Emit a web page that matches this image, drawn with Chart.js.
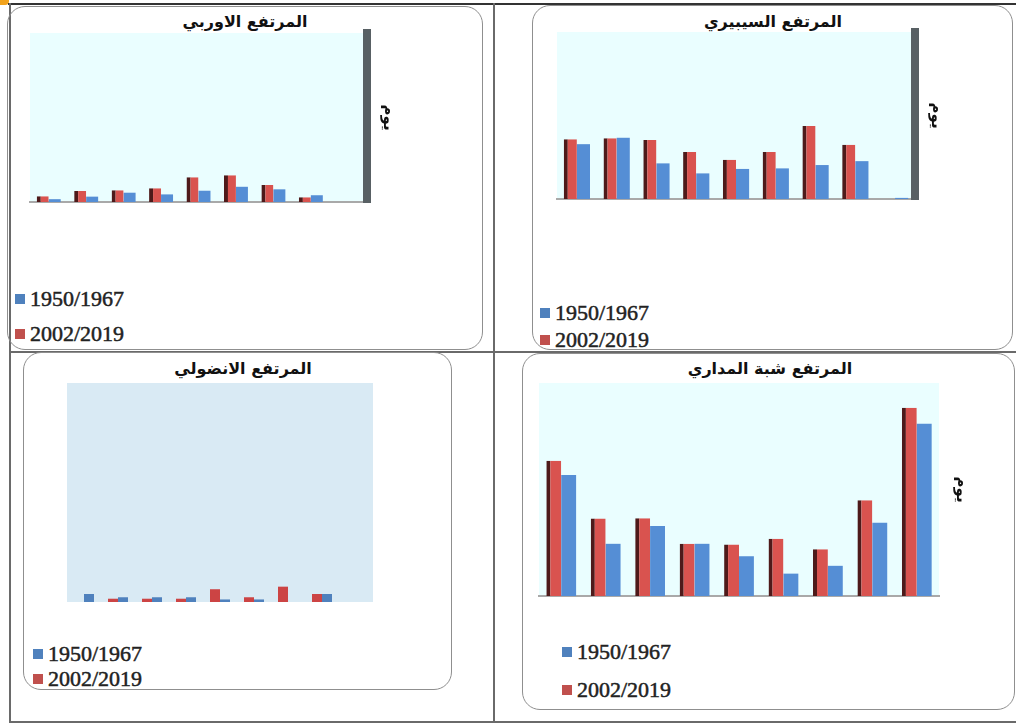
<!DOCTYPE html>
<html lang="ar">
<head>
<meta charset="utf-8">
<script src="https://cdn.jsdelivr.net/npm/chart.js@4.4.1/dist/chart.umd.min.js"></script>
<style>
  html, body { margin: 0; padding: 0; background: #fff; }
  #page { position: relative; width: 1016px; height: 723px; overflow: hidden; }
  .line { position: absolute; background: #6a6a6a; }
  .panel { position: absolute; border: 1.5px solid #8f8f8f; border-radius: 18px; box-sizing: border-box; }
  .title { position: absolute; height: 20px; line-height: 20px; font: bold 16px "DejaVu Sans"; color: #111;
           direction: rtl; white-space: nowrap; transform: translateX(-50%); }
  .legend { position: absolute; height: 22px; line-height: 22px; font: 22px "Liberation Serif"; color: #222;
            white-space: nowrap; -webkit-text-stroke: 0.5px #222; }
  .legend i { display: inline-block; width: 10px; height: 10px; margin-right: 5px; vertical-align: 2px; }
  canvas { position: absolute; }
</style>
</head>
<body>
<div id="page">
  <div style="position:absolute;left:0;top:0;width:9px;height:5px;background:#f2a31c;border-bottom-right-radius:4px"></div>
  <div class="line" style="left:8px;top:3px;width:1008px;height:2px;background:#333"></div>
  <div class="line" style="left:9px;top:3px;width:1.5px;height:720px"></div>
  <div class="line" style="left:493px;top:3px;width:1.5px;height:720px"></div>
  <div class="line" style="left:9px;top:351px;width:1007px;height:1.5px"></div>
  <div class="line" style="left:9px;top:721px;width:1007px;height:1.5px"></div>

  <div class="panel" style="left:7px;top:6px;width:476px;height:344px"></div>
  <div class="panel" style="left:532px;top:5px;width:481px;height:345px"></div>
  <div class="panel" style="left:23px;top:352px;width:429px;height:338px"></div>
  <div class="panel" style="left:522px;top:353px;width:493px;height:357px"></div>

  <div class="title" style="left:245px;top:12px">المرتفع الاوربي</div>
  <div class="title" style="left:773px;top:12px">المرتفع السيبيري</div>
  <div class="title" style="left:243px;top:359px">المرتفع الانضولي</div>
  <div class="title" style="left:770px;top:359px">المرتفع شبة المداري</div>

  <canvas id="europe" width="476" height="183" style="left:7px;top:27px"></canvas>
  <canvas id="siberia" width="481" height="181" style="left:532px;top:26px"></canvas>
  <canvas id="anatolia" width="429" height="233" style="left:23px;top:377px"></canvas>
  <canvas id="subtrop" width="493" height="227" style="left:522px;top:377px"></canvas>

  <div id="legends"></div>
</div>

<script>
// categories (no labels shown in the original) and the two periods
const categories = ['1', '2', '3', '4', '5', '6', '7', '8', '9'];
const seriesLabels = ['1950/1967', '2002/2019'];
const unitLabel = 'يوم';

// values (same arbitrary scale, 0..60 per panel)
const europeRed = [2.0, 3.9, 4.2, 4.9, 8.8, 9.5, 6.0, 1.7, 0];
const europeBlue = [1.0, 1.9, 3.3, 2.7, 4.0, 5.4, 4.5, 2.4, 0];
const siberiaRed = [21.5, 21.8, 21.2, 16.9, 14.1, 16.9, 26.2, 19.5, 0];
const siberiaBlue = [19.7, 22.0, 12.8, 9.2, 10.8, 11.0, 12.2, 13.6, 0.4];
const anatoliaRed = [0, 0.9, 0.9, 0.9, 3.5, 1.3, 4.2, 2.2, 0];
const anatoliaBlue = [2.2, 1.3, 1.3, 1.3, 0.7, 0.7, 0, 2.2, 0];
const subtropRed = [38.1, 21.8, 21.9, 14.7, 14.5, 16.1, 13.2, 27.0, 53.0];
const subtropBlue = [34.1, 14.7, 19.7, 14.7, 11.2, 6.3, 8.5, 20.6, 48.5];

const plotBg = {
  id: 'plotBg',
  beforeDraw(chart, args, opts) {
    const a = chart.chartArea;
    const ctx = chart.ctx;
    ctx.save();
    ctx.fillStyle = opts.color;
    ctx.fillRect(a.left, a.top, a.right - a.left, a.bottom - a.top);
    ctx.restore();
  }
};

function makeChart(id, red, blue, o) {
  return new Chart(document.getElementById(id), {
    type: 'bar',
    data: {
      labels: categories,
      datasets: [
        {
          label: seriesLabels[1], data: red,
          backgroundColor: o.red,
          borderColor: o.edge || o.red,
          borderWidth: o.edge ? { left: 4, top: 0, right: 0, bottom: 0 } : 0,
          borderSkipped: false,
          categoryPercentage: o.cat, barPercentage: 1
        },
        {
          label: seriesLabels[0], data: blue,
          backgroundColor: o.blue, borderWidth: 0,
          categoryPercentage: o.cat, barPercentage: 1
        }
      ]
    },
    options: {
      responsive: false,
      animation: false,
      layout: { padding: o.pad },
      plugins: {
        legend: { display: false },
        tooltip: { enabled: false },
        plotBg: { color: o.bg }
      },
      scales: {
        x: {
          display: true,
          grid: { display: false, drawTicks: false },
          ticks: { display: false },
          border: { display: o.base, color: '#a9a9a9', width: 2 }
        },
        y: {
          display: o.yAxis,
          position: 'right',
          min: 0, max: 60,
          grid: { display: false, drawTicks: false },
          ticks: { display: false },
          border: { display: !!o.wall, color: '#586064', width: 8 },
          title: {
            display: !!o.unit, text: o.unit, color: '#111',
            font: { family: 'DejaVu Sans', size: 15, weight: 'bold', lineHeight: 1.2 },
            padding: { top: 4, bottom: o.tpb || 0 }
          }
        }
      }
    },
    plugins: [plotBg]
  });
}

const cyan = '#eafeff';

makeChart('europe', europeRed, europeBlue, {
  red: '#d9534f', edge: '#4e1a1a', blue: '#558ed5', bg: cyan, cat: 0.64,
  pad: { left: 23, top: 6, right: 82, bottom: 8 },
  base: true, yAxis: true, wall: true, unit: unitLabel, tpb: 12
});
makeChart('siberia', siberiaRed, siberiaBlue, {
  red: '#d9534f', edge: '#4e1a1a', blue: '#558ed5', bg: cyan, cat: 0.66,
  pad: { left: 25, top: 6, right: 64, bottom: 8 },
  base: true, yAxis: true, wall: true, unit: unitLabel, tpb: 12
});
makeChart('anatolia', anatoliaRed, anatoliaBlue, {
  red: '#cc4444', blue: '#4f81bd', bg: '#d9eaf4', cat: 0.59,
  pad: { left: 44, top: 6, right: 79, bottom: 8 },
  base: false, yAxis: false
});
makeChart('subtrop', subtropRed, subtropBlue, {
  red: '#d9534f', edge: '#4e1a1a', blue: '#558ed5', bg: cyan, cat: 0.67,
  pad: { left: 17, top: 6, right: 41, bottom: 8 },
  base: true, yAxis: true, wall: false, unit: unitLabel, tpb: 13
});

// html legends: blue period first, then red, as in the original
const legendSpots = [
  [15, 297, 332],
  [540, 311, 338],
  [33, 652, 677],
  [562, 650, 688]
];
const legendColors = ['#4f81bd', '#c0504d'];
const host = document.getElementById('legends');
legendSpots.forEach(([x, y1, y2]) => {
  [y1, y2].forEach((y, i) => {
    const d = document.createElement('div');
    d.className = 'legend';
    d.style.left = x + 'px';
    d.style.top = (y - 11) + 'px';
    d.innerHTML = '<i style="background:' + legendColors[i] + '"></i>' + seriesLabels[i];
    host.appendChild(d);
  });
});
</script>
</body>
</html>
